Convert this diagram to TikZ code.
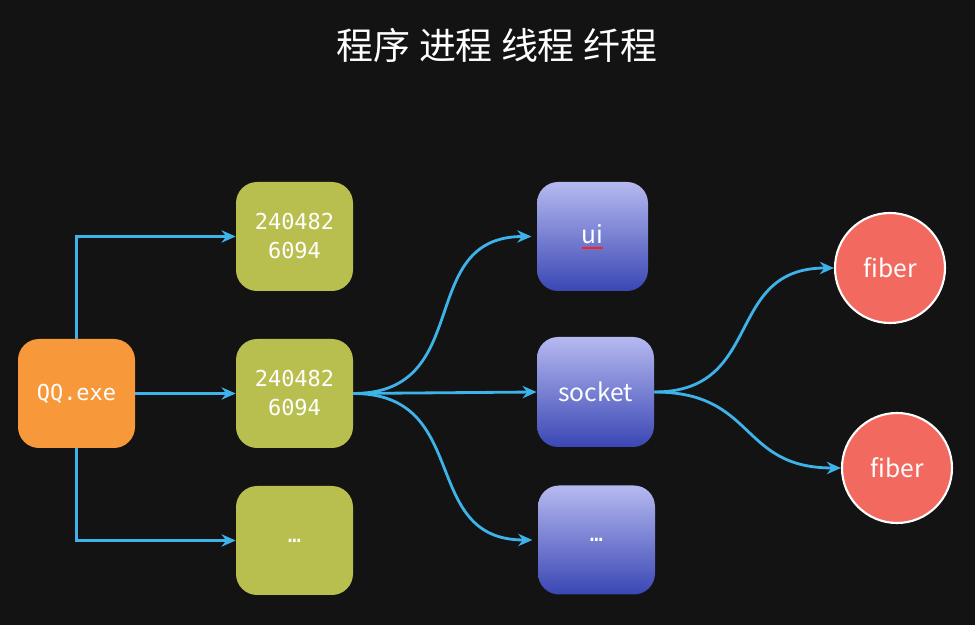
\documentclass[tikz,border=0pt]{standalone}
\usepackage{fontspec}
\setmainfont{Noto Sans}
\setmonofont{DejaVu Sans Mono}
\newfontfamily\cjk{Noto Sans CJK SC}
\usetikzlibrary{arrows.meta}
\definecolor{board}{HTML}{131313}
\definecolor{qqorange}{HTML}{F7993A}
\definecolor{procgreen}{HTML}{B8BF4E}
\definecolor{thrtop}{HTML}{B6B9F0}
\definecolor{thrbot}{HTML}{3A47B4}
\definecolor{fibred}{HTML}{F26A5F}
\definecolor{link}{HTML}{3DB3EA}
\definecolor{spell}{HTML}{FF2020}
% red spell-check line under a word
\newcommand\redline[1]{\setbox0\hbox{#1}\rlap{\textcolor{spell}{\rule[-3pt]{\wd0}{1.1pt}}}#1}

\begin{document}
\begin{tikzpicture}[
    box/.style={rounded corners=12pt, minimum width=2.34cm,
                minimum height=2.18cm, align=center, text=white},
    proc/.style={box, fill=procgreen, font=\ttfamily\fontsize{12.5}{16.5}\selectfont},
    thr/.style={box, top color=thrtop, bottom color=thrbot,
                font=\cjk\fontsize{14}{16}\selectfont},
    fib/.style={circle, draw=white, line width=1.2pt, fill=fibred,
                minimum size=2.2cm, text=white, font=\cjk\fontsize{14}{16}\selectfont},
    arrow/.style={-{Stealth[length=8pt,width=7pt]}, line width=1.6pt, draw=link},
]
\fill[board] (0,0) rectangle (19.5,12.5);
\useasboundingbox (0,0) rectangle (19.5,12.5);

\node[text=white, font=\cjk\fontsize{21}{24}\selectfont] (title) at (9.94,11.6)
     {程序 进程 线程 纤程};

\node[box, fill=qqorange, font=\ttfamily\fontsize{12.5}{16}\selectfont] (qq) at (1.53,4.63) {QQ.exe};

\node[proc] (p1) at (5.89,7.77) {240482\\6094};
\node[proc] (p2) at (5.89,4.63) {240482\\6094};
\node[proc] (p3) at (5.89,1.69) {…};

\node[thr, minimum width=2.22cm] (ui) at (11.85,7.77) {\redline{ui}};
\node[thr, minimum height=2.2cm] (sock) at (11.91,4.66) {socket};
\node[thr, font=\ttfamily\fontsize{12.5}{16}\selectfont] (more) at (11.93,1.70) {…};

\node[fib] (f1) at (17.8,7.14) {fiber};
\node[fib] (f2) at (17.94,3.14) {fiber};

\draw[arrow] (qq.north) |- (p1.west);
\draw[arrow] (qq.east) -- (p2.west);
\draw[arrow] (qq.south) |- (p3.west);

\draw[arrow] (p2.east) -- (sock.west);
\foreach \t in {ui,more}
    \draw[arrow, shorten >=3pt] (p2.east) to[out=0, in=180, looseness=1.3] (\t.west);
\foreach \f in {f1,f2}
    \draw[arrow] (sock.east) to[out=0, in=180, looseness=1.3] (\f.west);
\end{tikzpicture}
\end{document}
